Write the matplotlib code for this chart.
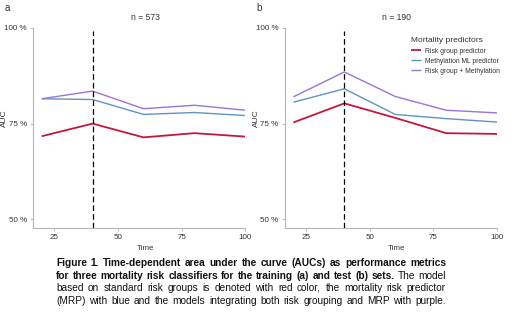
import matplotlib
matplotlib.use('Agg')
import matplotlib.pyplot as plt

plt.rcParams['font.family'] = ['Liberation Sans', 'DejaVu Sans']

# time points and AUC values (%)
time = [20, 40, 60, 80, 100]
train_risk = [71.7, 75.0, 71.4, 72.5, 71.6]
train_meth = [81.5, 81.3, 77.4, 77.9, 77.1]
train_comb = [81.5, 83.5, 78.9, 79.8, 78.5]
test_risk = [75.3, 80.3, 76.5, 72.5, 72.3]
test_meth = [80.6, 84.1, 77.4, 76.3, 75.4]
test_comb = [82.0, 88.5, 82.1, 78.5, 77.8]

series_names = ['Risk group predictor', 'Methylation ML predictor', 'Risk group + Methylation']
colors = ['#c2173f', '#5f93c6', '#9a73d8']
widths = [1.3, 1.0, 1.0]
panel_titles = ['n = 573', 'n = 190']
panel_letters = ['a', 'b']
yticks = [50, 75, 100]
ytick_labels = ['50 %', '75 %', '100 %']
xticks = [25, 50, 75, 100]

caption = [
    [('Figure 1. Time-dependent area under the curve (AUCs) as performance metrics', 'bold')],
    [('for three mortality risk classifiers for the training (a) and test (b) sets.', 'bold'),
     ('The model', 'normal')],
    [('based on standard risk groups is denoted with red color, the mortality risk predictor', 'normal')],
    [('(MRP) with blue and the models integrating both risk grouping and MRP with purple.', 'normal')],
]

W, H = 520, 331
fig = plt.figure(figsize=(W / 100, H / 100), dpi=100)

spine_col = '#b5b5b5'
text_col = '#333333'

panels = [(33.3, [train_risk, train_meth, train_comb]),
          (285.0, [test_risk, test_meth, test_comb])]
axes = []
for i, (x0, data) in enumerate(panels):
    ax = fig.add_axes([x0 / W, 1 - 228 / H, 212 / W, 200 / H])
    for vals, c, lw, name in zip(data, colors, widths, series_names):
        ax.plot(time, vals, color=c, lw=lw, label=name, solid_capstyle='butt')
    ax.axvline(40, ymax=0.985, color='black', lw=0.9, linestyle=(0, (4.5, 2.5)))
    ax.set_xlim(16.7, 100)
    ax.set_ylim(47.7, 100)
    ax.set_xticks(xticks)
    ax.set_yticks(yticks)
    ax.set_yticklabels(ytick_labels)
    for s in ['top', 'right']:
        ax.spines[s].set_visible(False)
    for s in ['left', 'bottom']:
        ax.spines[s].set_color(spine_col)
        ax.spines[s].set_linewidth(0.8)
    ax.tick_params(colors=spine_col, labelcolor=text_col, labelsize=5.8,
                   length=2.5, width=0.6, pad=2)
    axes.append(ax)

    cx = (x0 + 106 + 6) / W
    fig.text(cx, 1 - 17 / H, panel_titles[i], ha='center', va='center',
             fontsize=6.2, color=text_col)
    fig.text(cx, 1 - 248.5 / H, 'Time', ha='center', va='center',
             fontsize=5.8, color=text_col)
    fig.text((x0 - 28.5) / W, 1 - 118 / H, 'AUC', ha='center', va='center',
             rotation=90, fontsize=6.0, color=text_col)
    fig.text((x0 - 29) / W, 1 - 8 / H, panel_letters[i], ha='left', va='center',
             fontsize=7, color=text_col)

leg = axes[1].legend(title='Mortality predictors', loc='upper left',
                     bbox_to_anchor=(411.0 / W, 1 - 37.5 / H),
                     bbox_transform=fig.transFigure, frameon=False,
                     fontsize=4.9, title_fontsize=6.0, handlelength=1.5,
                     handletextpad=0.6, labelspacing=0.45, borderpad=0,
                     borderaxespad=0, alignment='left')
for t in leg.get_texts():
    t.set_color(text_col)
leg.get_title().set_color(text_col)

# justified caption
renderer = fig.canvas.get_renderer()
x_left, x_right = 56.0, 446.0
line_y = [263.5, 275.8, 288.0, 300.5]
for tokens, y in zip(caption, line_y):
    words = []
    for chunk, weight in tokens:
        for w in chunk.split():
            words.append((w, weight))
    texts = [fig.text(0, 1 - y / H, w, fontsize=7.3, fontweight=wt,
                      ha='left', va='center', color='#111111')
             for w, wt in words]
    wpx = [t.get_window_extent(renderer).width for t in texts]
    gap = (x_right - x_left - sum(wpx)) / (len(texts) - 1)
    x = x_left
    for t, w in zip(texts, wpx):
        t.set_x(x / W)
        x += w + gap

fig.savefig('out.png', dpi=100)
